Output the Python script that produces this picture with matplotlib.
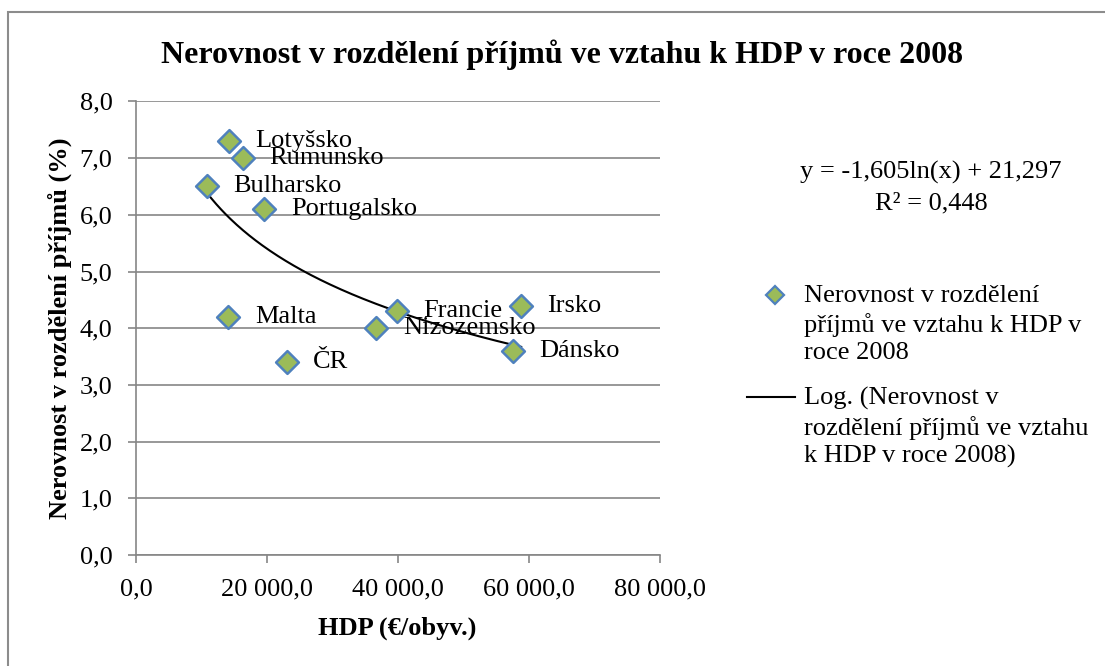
import numpy as np
import matplotlib
matplotlib.use("Agg")
import matplotlib.pyplot as plt
from matplotlib.lines import Line2D
from matplotlib.patches import Rectangle
from matplotlib.ticker import FuncFormatter

plt.rcParams['font.family'] = ['Liberation Serif', 'DejaVu Serif']

countries = ["Lotyšsko", "Rumunsko", "Bulharsko", "Portugalsko", "Malta",
             "ČR", "Nizozemsko", "Francie", "Irsko", "Dánsko"]
hdp = [14200, 16300, 10800, 19600, 14100, 23000, 36700, 39800, 58800, 57600]
nerovnost = [7.3, 7.0, 6.5, 6.1, 4.2, 3.4, 4.0, 4.3, 4.4, 3.6]

# trend coefficients as shown in the chart
trend_a = -1.605
trend_b = 21.297

title = "Nerovnost v rozdělení příjmů ve vztahu k HDP v roce 2008"

W, H = 1105, 666
FS = 19
fig = plt.figure(figsize=(W / 100, H / 100), dpi=100)
fig.patch.set_facecolor("white")


def px(x, y):
    return x / W, 1 - y / H


# outer chart border (cropped at right/bottom)
fig.add_artist(Rectangle(px(8, 700), (1110 - 8) / W, (700 - 12) / H,
                         transform=fig.transFigure, fill=False,
                         edgecolor="#8c8c8c", linewidth=1.5))

ax = fig.add_axes([136 / W, (H - 555) / H, 524 / W, (555 - 101.4) / H])
ax.set_xlim(0, 80000)
ax.set_ylim(0, 8)
ax.set_xticks(np.arange(0, 80001, 20000))
ax.set_yticks(np.arange(0, 8.01, 1))


def cz(v, pos=None):
    s = "{:,.1f}".format(v).replace(",", " ").replace(".", ",")
    return s


ax.xaxis.set_major_formatter(FuncFormatter(cz))
ax.yaxis.set_major_formatter(FuncFormatter(cz))
ax.grid(axis="y", color="#868686", linewidth=1.2)
ax.set_axisbelow(True)
for s in ["top", "right"]:
    ax.spines[s].set_visible(False)
for s in ["left", "bottom"]:
    ax.spines[s].set_color("#868686")
    ax.spines[s].set_linewidth(1.2)
ax.tick_params(axis="both", colors="#868686", labelcolor="black",
               labelsize=FS, length=6, width=1.2)
ax.tick_params(axis="x", pad=11)
ax.tick_params(axis="y", pad=11)

# trendline
xt = np.linspace(min(hdp), max(hdp), 200)
ax.plot(xt, trend_a * np.log(xt) + trend_b, color="black", linewidth=1.5,
        zorder=2)

ax.scatter(hdp, nerovnost, marker="D", s=135, facecolor="#9BBB59",
           edgecolor="#4F81BD", linewidth=1.8, zorder=3, clip_on=False)

for name, x, y in zip(countries, hdp, nerovnost):
    ax.annotate(name, (x, y), xytext=(19, 0), textcoords="offset points",
                va="center", ha="left", fontsize=FS, zorder=4)

fig.text(*px(562, 55), title, ha="center", va="center", fontsize=23,
         fontweight="bold")
fig.text(*px(60, 328), "Nerovnost v rozdělení příjmů (%)", rotation=90,
         ha="center", va="center", fontsize=FS, fontweight="bold")
fig.text(*px(397, 628), "HDP (€/obyv.)", ha="center", va="center",
         fontsize=FS, fontweight="bold")

# trend equation
fig.text(*px(931, 172), "y = -1,605ln(x) + 21,297", ha="center", va="center",
         fontsize=FS)
fig.text(*px(931, 203), "R² = 0,448", ha="center", va="center", fontsize=FS)

# legend drawn by hand to match Excel layout
fig.add_artist(Line2D([775 / W], [1 - 295 / H], marker="D", markersize=9.5,
                      markerfacecolor="#9BBB59", markeredgecolor="#4F81BD",
                      markeredgewidth=1.6, transform=fig.transFigure))
fig.text(*px(804, 285), "Nerovnost v rozdělení\npříjmů ve vztahu k HDP v\nroce 2008",
         ha="left", va="top", fontsize=FS, linespacing=1.3)
fig.add_artist(Line2D([747 / W, 795 / W], [1 - 397 / H, 1 - 397 / H],
                      color="black", linewidth=1.5,
                      transform=fig.transFigure))
fig.text(*px(804, 387), "Log. (Nerovnost v\nrozdělení příjmů ve vztahu\nk HDP v roce 2008)",
         ha="left", va="top", fontsize=FS, linespacing=1.3)

fig.savefig("out.png", dpi=100)
